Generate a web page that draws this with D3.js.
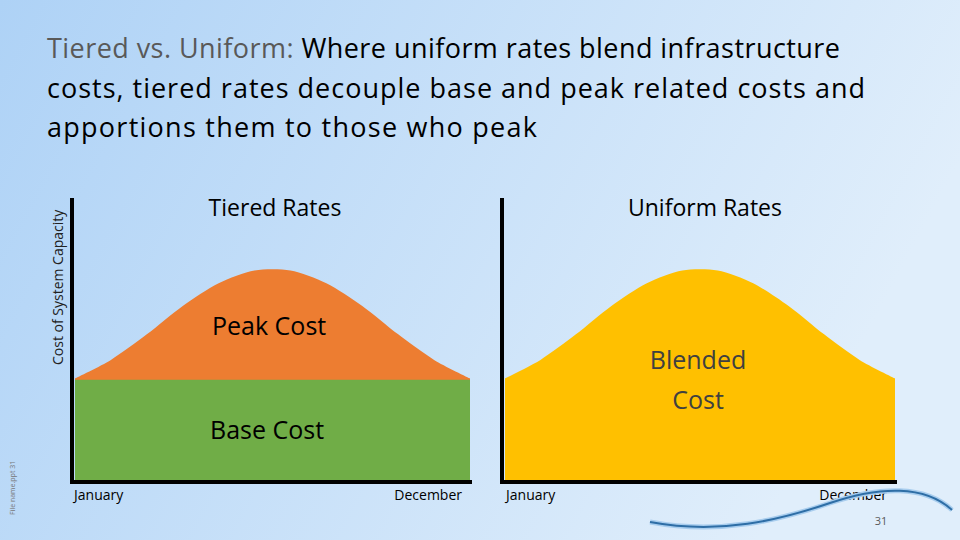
<!DOCTYPE html>
<html><head><meta charset="utf-8">
<script src="https://cdn.jsdelivr.net/npm/d3@7"></script>
<style>body{margin:0;overflow:hidden}svg{display:block;font-family:"Open Sans",sans-serif}</style>
</head><body><svg id="c" width="960" height="540"></svg>
<script>
// monthly demand on the system (share of capacity cost)
var months = ['Jan','Feb','Mar','Apr','May','Jun','Jul','Aug','Sep','Oct','Nov','Dec'];
var demand = [36.5, 43, 52, 62, 70, 74.5, 74.5, 70, 62, 52, 43, 36.5];
var baseLevel = 36;
var titleLines = [
    ['Tiered vs. Uniform: ', 'Where uniform rates blend infrastructure'],
    ['', 'costs, tiered rates decouple base and peak related costs and'],
    ['', 'apportions them to those who peak']
];

var svg = d3.select('#c');
var defs = svg.append('defs');
var g = defs.append('linearGradient').attr('id', 'bg').attr('x1', 0).attr('x2', 1).attr('y1', 0).attr('y2', 0.3);
g.append('stop').attr('offset', 0).attr('stop-color', '#aed2f6');
g.append('stop').attr('offset', 1).attr('stop-color', '#e0eefb');
svg.append('rect').attr('width', 960).attr('height', 540).attr('fill', 'url(#bg)');

// title
titleLines.forEach(function (l, i) {
    var t = svg.append('text').attr('x', 47).attr('y', 58 + i * 39.5).attr('font-size', 27)
        .attr('textLength', i == 2 ? null : (i == 0 ? 793 : 818)).attr('fill', '#000');
    t.append('tspan').attr('fill', '#595959').text(l[0]);
    t.append('tspan').text(l[1]);
});
svg.selectAll('text').filter(function () { return !this.getAttribute('textLength'); }).attr('textLength', null);
svg.select('text:nth-of-type(3)').attr('textLength', 490);

var y = d3.scaleLinear().domain([0, 100]).range([482, 198]);

function panel(x0, x1, tiered, label) {
    var x = d3.scaleLinear().domain([0, months.length - 1]).range([x0 + 3, x1]);
    var top = d3.area().x(function (d, i) { return x(i); }).y0(y(0)).y1(function (d) { return y(d); })
        .curve(d3.curveCardinal.tension(0.2));
    svg.append('path').datum(demand).attr('d', top).attr('fill', tiered ? '#ed7d31' : '#ffc000');
    if (tiered) {
        svg.append('rect').attr('x', x(0)).attr('width', x(11) - x(0))
            .attr('y', y(baseLevel)).attr('height', y(0) - y(baseLevel)).attr('fill', '#70ad47');
    }
    svg.append('path').attr('d', 'M' + x0 + ',' + y(100) + 'V' + y(0) + 'H' + (x1 + 2))
        .attr('fill', 'none').attr('stroke', '#000').attr('stroke-width', 4);
    svg.append('text').attr('x', x0 + (tiered ? 2 : 4)).attr('y', 500).attr('font-size', 14).text('January');
    svg.append('text').attr('x', x1 - 8).attr('y', 500).attr('font-size', 14).attr('text-anchor', 'end').text('December');
    svg.append('text').attr('x', x0 + 203).attr('y', 216).attr('font-size', 23).attr('text-anchor', 'middle').text(label);
}
panel(72, 470, true, 'Tiered Rates');
panel(502, 895, false, 'Uniform Rates');

svg.append('text').attr('x', 212).attr('y', 335).attr('font-size', 25).text('Peak Cost');
svg.append('text').attr('x', 210).attr('y', 439).attr('font-size', 25).text('Base Cost');
svg.append('text').attr('x', 698).attr('y', 369).attr('font-size', 25).attr('fill', '#404040').attr('text-anchor', 'middle').text('Blended');
svg.append('text').attr('x', 698).attr('y', 409).attr('font-size', 25).attr('fill', '#404040').attr('text-anchor', 'middle').text('Cost');

svg.append('text').attr('transform', 'translate(63,365) rotate(-90)').attr('font-size', 14).attr('fill', '#222').text('Cost of System Capacity');
svg.append('text').attr('transform', 'translate(15,515) rotate(-90)').attr('font-size', 7).attr('fill', '#777').text('File name.ppt 31');

// decorative swoosh
var swoosh = 'M650,522 C720,535 780,520 830,503 C880,486 925,485 952,510';
svg.append('path').attr('d', swoosh).attr('fill', 'none').attr('stroke', '#a8cdee').attr('stroke-width', 5);
svg.append('path').attr('d', swoosh).attr('fill', 'none').attr('stroke', '#2e6ea6').attr('stroke-width', 2);
svg.append('text').attr('x', 881).attr('y', 525).attr('font-size', 11).attr('fill', '#595959').attr('text-anchor', 'middle').text('31');
</script></body></html>
